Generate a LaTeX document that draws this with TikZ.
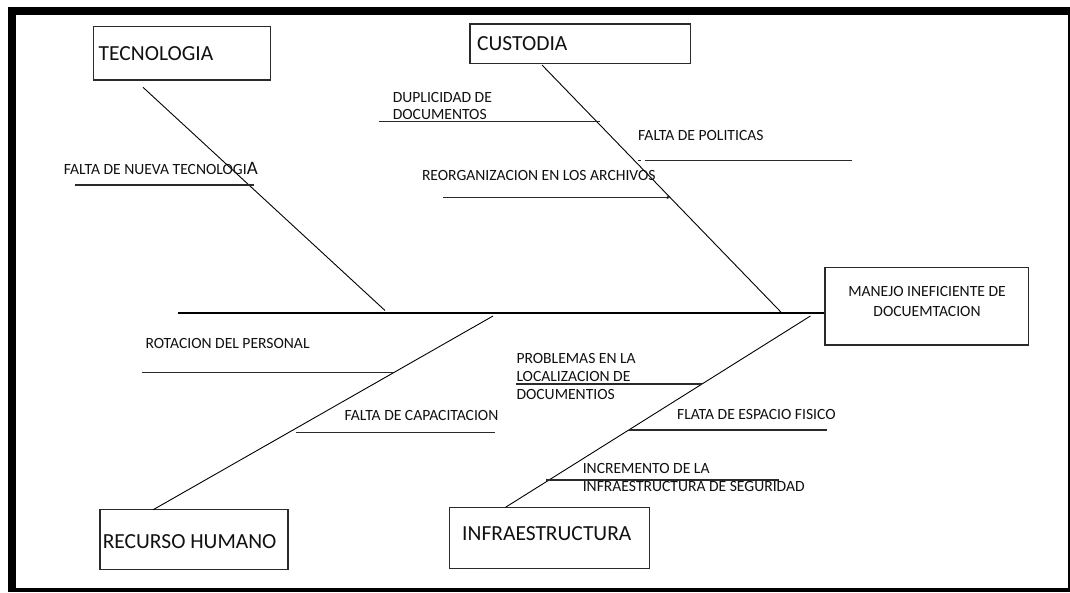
\documentclass[tikz,border=0pt]{standalone}
\usepackage{fontspec}
\setmainfont{Carlito}
\usetikzlibrary{arrows.meta}
\definecolor{ink}{HTML}{111111}
\definecolor{edge}{HTML}{2A2A2A}
\begin{document}
\begin{tikzpicture}[x=1pt,y=-1pt,
  boxnode/.style={draw=edge,line width=1.3pt,rectangle,inner sep=0pt,fill=none},
  titletext/.style={inner sep=0pt,anchor=base west,text=ink,font=\fontsize{21.5}{24}\selectfont},
  smalltext/.style={inner sep=0pt,anchor=base west,text=ink,font=\fontsize{15.6}{18}\selectfont},
  causeline/.style={draw=edge,line width=1.2pt},
  boneline/.style={draw=black,line width=0.9pt},
  spineline/.style={draw=black,line width=1.3pt}]
\useasboundingbox (0,0) rectangle (1070,592);
% frame
\fill[black] (8,7) rectangle (1069.5,592);
\fill[white] (16,15) rectangle (1067.5,588);
% boxes
\node[boxnode,minimum width=176.6pt,minimum height=53.3pt] (tecbox) at (182,53.35) {};
\node[boxnode,minimum width=220.5pt,minimum height=39.3pt] (custbox) at (580.25,43.65) {};
\node[boxnode,minimum width=203.6pt,minimum height=77.7pt] (mainbox) at (926.8,306.15) {};
\node[boxnode,minimum width=188pt,minimum height=59.6pt] (rhbox) at (193.9,539.5) {};
\node[boxnode,minimum width=200pt,minimum height=61pt] (infbox) at (549.65,537.8) {};
% titles
\node[titletext] (tectxt) at (98.5,60) {TECNOLOGIA};
\node[titletext] (custtxt) at (477,50.7) {CUSTODIA};
\node[titletext] (rhtxt) at (102.6,548.3) {RECURSO HUMANO};
\node[titletext] (inftxt) at (462,540) {INFRAESTRUCTURA};
\node[smalltext,anchor=base] (main1) at (927,296.7) {MANEJO INEFICIENTE DE};
\node[smalltext,anchor=base] (main2) at (927,316.7) {DOCUEMTACION};
% spine
\coordinate (spL) at (178.4,313);
\draw[spineline] (spL) -- (spL -| mainbox.west);
% bones
\coordinate (tecA) at (143,87.3);
\coordinate (tecB) at (385,310.5);
\draw[boneline] (tecA) -- (tecB);
\coordinate (custA) at (542,65);
\coordinate (custB) at (781.5,312.7);
\draw[boneline] (custA) -- (custB);
\coordinate (rhA) at (493,316);
\coordinate (rhB) at (153.2,509.7);
\draw[boneline] (rhA) -- (rhB);
\coordinate (infA) at (810.4,316);
\coordinate (infB) at (505.5,507.3);
\draw[boneline] (infA) -- (infB);
% causes: tecnologia
\node[smalltext] (c1) at (63.7,174) {FALTA DE NUEVA TECNOLOGI{\fontsize{19}{22}\selectfont A}};
\coordinate (c1a) at (74.7,185); \coordinate (c1b) at (254,185);
\draw[causeline] (c1a) -- (c1b);
% causes: custodia
\node[smalltext] (c2a) at (392.6,102) {DUPLICIDAD DE};
\node[smalltext] (c2b) at (392.6,119) {DOCUMENTOS};
\coordinate (l2a) at (378.8,121.5); \coordinate (l2b) at (600,121.5);
\draw[causeline] (l2a) -- (l2b);
\node[smalltext] (c3) at (638,140) {FALTA DE POLITICAS};
\coordinate (l3a) at (644.7,160.7); \coordinate (l3b) at (852,160.7);
\draw[causeline] (l3a) -- (l3b);
\coordinate (d3a) at (638.3,160.5); \coordinate (d3b) at (640.8,160.5);
\draw[causeline] (d3a) -- (d3b);
\node[smalltext] (c4) at (421.8,180) {REORGANIZACION EN LOS ARCHIVOS};
\coordinate (l4a) at (443,197.3); \coordinate (l4b) at (671,197.3);
\draw[causeline,-{Stealth[length=4.5pt,width=3.5pt]}] (l4a) -- (l4b);
% causes: recurso humano
\node[smalltext] (c5) at (145.3,348.3) {ROTACION DEL PERSONAL};
\coordinate (l5a) at (141.9,372.7); \coordinate (l5b) at (392.6,372.7);
\draw[causeline] (l5a) -- (l5b);
\node[smalltext] (c6) at (344.4,420) {FALTA DE CAPACITACION};
\coordinate (l6a) at (295.5,432.7); \coordinate (l6b) at (494.8,432.7);
\draw[causeline] (l6a) -- (l6b);
% causes: infraestructura
\node[smalltext] (c7a) at (516.3,363.3) {PROBLEMAS EN LA};
\node[smalltext] (c7b) at (516.3,381) {LOCALIZACION DE};
\node[smalltext] (c7c) at (516.3,399.3) {DOCUMENTIOS};
\coordinate (l7a) at (516.3,384); \coordinate (l7b) at (702,384);
\draw[causeline] (l7a) -- (l7b);
\node[smalltext] (c8) at (677,419.3) {FLATA DE ESPACIO FISICO};
\coordinate (l8a) at (628.8,430); \coordinate (l8b) at (827,430);
\draw[causeline] (l8a) -- (l8b);
\node[smalltext] (c9a) at (582.6,473.3) {INCREMENTO DE LA};
\node[smalltext] (c9b) at (582.6,491) {INFRAESTRUCTURA DE SEGURIDAD};
\coordinate (l9a) at (545.7,480); \coordinate (l9b) at (778.7,480);
\draw[causeline] (l9a) -- (l9b);
\end{tikzpicture}
\end{document}
